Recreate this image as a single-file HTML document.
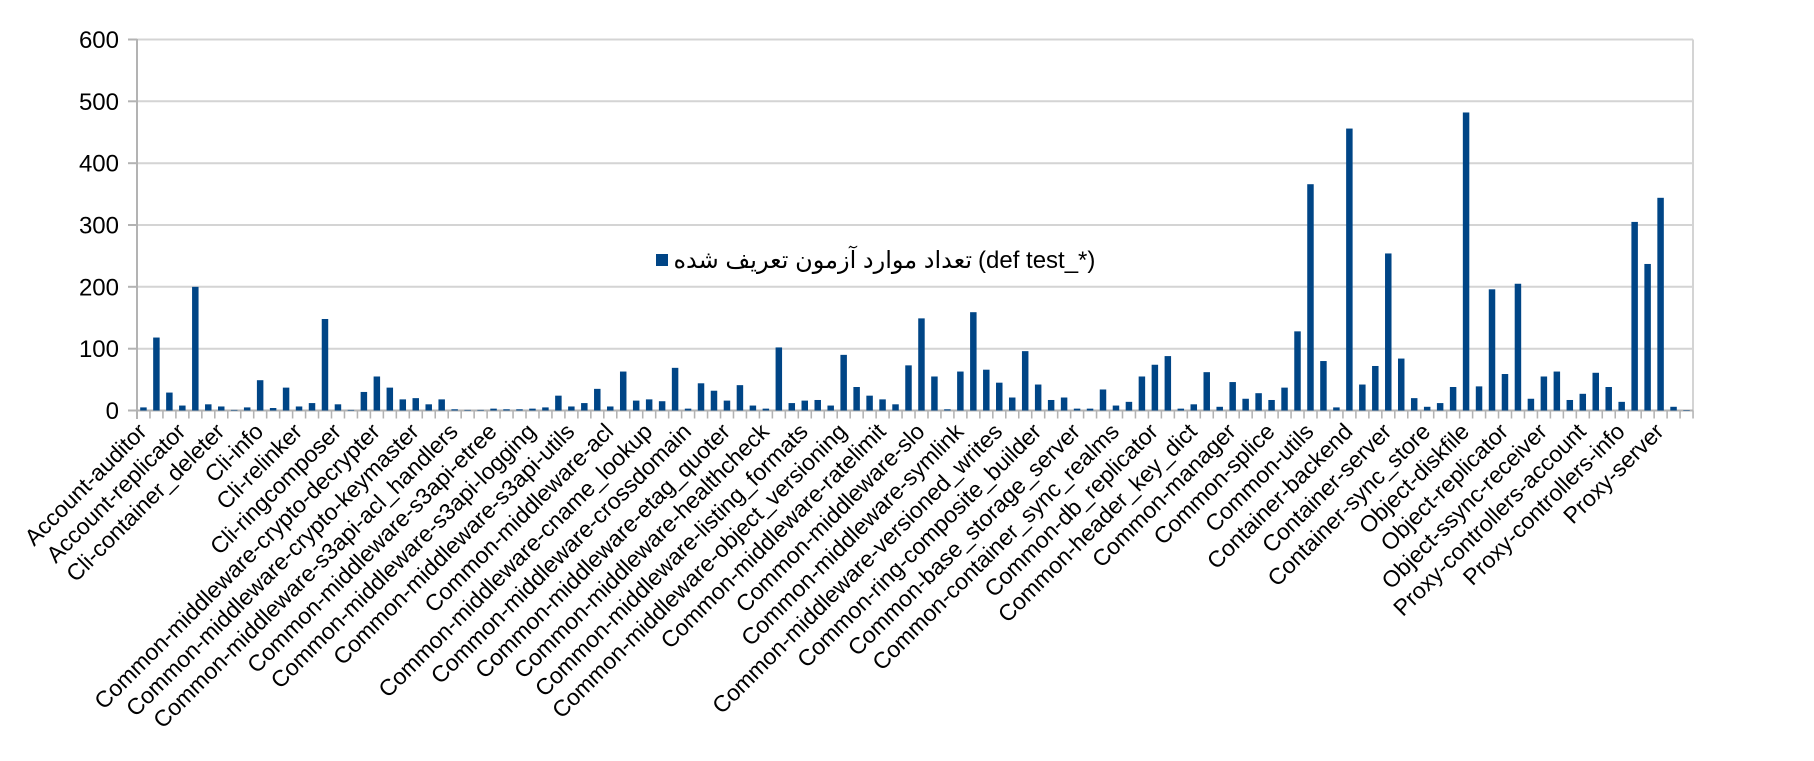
<!DOCTYPE html>
<html><head><meta charset="utf-8"><style>
html,body{margin:0;padding:0;background:#fff;}
svg{display:block;}
text{font-family:"Liberation Sans","DejaVu Sans",sans-serif;fill:#000;}
</style></head><body>
<svg width="1814" height="761" viewBox="0 0 1814 761" xmlns="http://www.w3.org/2000/svg">
<g stroke="#d4d4d4" stroke-width="2">
<line x1="137" y1="39.5" x2="1693" y2="39.5"/>
<line x1="137" y1="101.3" x2="1693" y2="101.3"/>
<line x1="137" y1="163.2" x2="1693" y2="163.2"/>
<line x1="137" y1="225" x2="1693" y2="225"/>
<line x1="137" y1="286.8" x2="1693" y2="286.8"/>
<line x1="137" y1="348.7" x2="1693" y2="348.7"/>
<line x1="1693" y1="39.5" x2="1693" y2="410.5"/>
</g>
<g stroke="#b3b3b3" stroke-width="2">
<line x1="137" y1="39" x2="137" y2="419"/>
<line x1="128" y1="410.5" x2="1693" y2="410.5"/>
<line x1="128" y1="39.5" x2="137" y2="39.5"/>
<line x1="128" y1="101.3" x2="137" y2="101.3"/>
<line x1="128" y1="163.2" x2="137" y2="163.2"/>
<line x1="128" y1="225" x2="137" y2="225"/>
<line x1="128" y1="286.8" x2="137" y2="286.8"/>
<line x1="128" y1="348.7" x2="137" y2="348.7"/>
</g>
<g transform="translate(137,410.5) scale(12.967,1)" stroke="#b3b3b3" stroke-width="0.12">
<path d="M1 0v8M2 0v8M3 0v8M4 0v8M5 0v8M6 0v8M7 0v8M8 0v8M9 0v8M10 0v8M11 0v8M12 0v8M13 0v8M14 0v8M15 0v8M16 0v8M17 0v8M18 0v8M19 0v8M20 0v8M21 0v8M22 0v8M23 0v8M24 0v8M25 0v8M26 0v8M27 0v8M28 0v8M29 0v8M30 0v8M31 0v8M32 0v8M33 0v8M34 0v8M35 0v8M36 0v8M37 0v8M38 0v8M39 0v8M40 0v8M41 0v8M42 0v8M43 0v8M44 0v8M45 0v8M46 0v8M47 0v8M48 0v8M49 0v8M50 0v8M51 0v8M52 0v8M53 0v8M54 0v8M55 0v8M56 0v8M57 0v8M58 0v8M59 0v8M60 0v8M61 0v8M62 0v8M63 0v8M64 0v8M65 0v8M66 0v8M67 0v8M68 0v8M69 0v8M70 0v8M71 0v8M72 0v8M73 0v8M74 0v8M75 0v8M76 0v8M77 0v8M78 0v8M79 0v8M80 0v8M81 0v8M82 0v8M83 0v8M84 0v8M85 0v8M86 0v8M87 0v8M88 0v8M89 0v8M90 0v8M91 0v8M92 0v8M93 0v8M94 0v8M95 0v8M96 0v8M97 0v8M98 0v8M99 0v8M100 0v8M101 0v8M102 0v8M103 0v8M104 0v8M105 0v8M106 0v8M107 0v8M108 0v8M109 0v8M110 0v8M111 0v8M112 0v8M113 0v8M114 0v8M115 0v8M116 0v8M117 0v8M118 0v8M119 0v8M120 0v8"/>
</g>
<g transform="translate(140.2,410.5) scale(12.967,-0.6183)" fill="#004586">
<rect x="0" width="0.5" height="5"/><rect x="1" width="0.5" height="118"/><rect x="2" width="0.5" height="29"/><rect x="3" width="0.5" height="8"/><rect x="4" width="0.5" height="200"/><rect x="5" width="0.5" height="10"/><rect x="6" width="0.5" height="6.5"/><rect x="7" width="0.5" height="1"/><rect x="8" width="0.5" height="5"/><rect x="9" width="0.5" height="49"/>
<rect x="10" width="0.5" height="4"/><rect x="11" width="0.5" height="37"/><rect x="12" width="0.5" height="6.5"/><rect x="13" width="0.5" height="12"/><rect x="14" width="0.5" height="148"/><rect x="15" width="0.5" height="10"/><rect x="16" width="0.5" height="1"/><rect x="17" width="0.5" height="30"/><rect x="18" width="0.5" height="55"/><rect x="19" width="0.5" height="37"/>
<rect x="20" width="0.5" height="18"/><rect x="21" width="0.5" height="20"/><rect x="22" width="0.5" height="10"/><rect x="23" width="0.5" height="18"/><rect x="24" width="0.5" height="2"/><rect x="25" width="0.5" height="1"/><rect x="26" width="0.5" height="1"/><rect x="27" width="0.5" height="3"/><rect x="28" width="0.5" height="2"/><rect x="29" width="0.5" height="2"/>
<rect x="30" width="0.5" height="3"/><rect x="31" width="0.5" height="5"/><rect x="32" width="0.5" height="24"/><rect x="33" width="0.5" height="6.5"/><rect x="34" width="0.5" height="12"/><rect x="35" width="0.5" height="35"/><rect x="36" width="0.5" height="6.5"/><rect x="37" width="0.5" height="63"/><rect x="38" width="0.5" height="16"/><rect x="39" width="0.5" height="18"/>
<rect x="40" width="0.5" height="15"/><rect x="41" width="0.5" height="69"/><rect x="42" width="0.5" height="3"/><rect x="43" width="0.5" height="44"/><rect x="44" width="0.5" height="32"/><rect x="45" width="0.5" height="16"/><rect x="46" width="0.5" height="41"/><rect x="47" width="0.5" height="8"/><rect x="48" width="0.5" height="3"/><rect x="49" width="0.5" height="102"/>
<rect x="50" width="0.5" height="12"/><rect x="51" width="0.5" height="16"/><rect x="52" width="0.5" height="17"/><rect x="53" width="0.5" height="8"/><rect x="54" width="0.5" height="90"/><rect x="55" width="0.5" height="38"/><rect x="56" width="0.5" height="24"/><rect x="57" width="0.5" height="18"/><rect x="58" width="0.5" height="10"/><rect x="59" width="0.5" height="73"/>
<rect x="60" width="0.5" height="149"/><rect x="61" width="0.5" height="55"/><rect x="62" width="0.5" height="2"/><rect x="63" width="0.5" height="63"/><rect x="64" width="0.5" height="159"/><rect x="65" width="0.5" height="66"/><rect x="66" width="0.5" height="45"/><rect x="67" width="0.5" height="21"/><rect x="68" width="0.5" height="96"/><rect x="69" width="0.5" height="42"/>
<rect x="70" width="0.5" height="17"/><rect x="71" width="0.5" height="21"/><rect x="72" width="0.5" height="3"/><rect x="73" width="0.5" height="3"/><rect x="74" width="0.5" height="34"/><rect x="75" width="0.5" height="8"/><rect x="76" width="0.5" height="14"/><rect x="77" width="0.5" height="55"/><rect x="78" width="0.5" height="74"/><rect x="79" width="0.5" height="88"/>
<rect x="80" width="0.5" height="3"/><rect x="81" width="0.5" height="10"/><rect x="82" width="0.5" height="62"/><rect x="83" width="0.5" height="6"/><rect x="84" width="0.5" height="46"/><rect x="85" width="0.5" height="19"/><rect x="86" width="0.5" height="28"/><rect x="87" width="0.5" height="17"/><rect x="88" width="0.5" height="37"/><rect x="89" width="0.5" height="128"/>
<rect x="90" width="0.5" height="366"/><rect x="91" width="0.5" height="80"/><rect x="92" width="0.5" height="5"/><rect x="93" width="0.5" height="456"/><rect x="94" width="0.5" height="42"/><rect x="95" width="0.5" height="72"/><rect x="96" width="0.5" height="254"/><rect x="97" width="0.5" height="84"/><rect x="98" width="0.5" height="20"/><rect x="99" width="0.5" height="6"/>
<rect x="100" width="0.5" height="12"/><rect x="101" width="0.5" height="38"/><rect x="102" width="0.5" height="482"/><rect x="103" width="0.5" height="39"/><rect x="104" width="0.5" height="196"/><rect x="105" width="0.5" height="59"/><rect x="106" width="0.5" height="205"/><rect x="107" width="0.5" height="19"/><rect x="108" width="0.5" height="55"/><rect x="109" width="0.5" height="63"/>
<rect x="110" width="0.5" height="17"/><rect x="111" width="0.5" height="27"/><rect x="112" width="0.5" height="61"/><rect x="113" width="0.5" height="38"/><rect x="114" width="0.5" height="14"/><rect x="115" width="0.5" height="305"/><rect x="116" width="0.5" height="237"/><rect x="117" width="0.5" height="344"/><rect x="118" width="0.5" height="6"/><rect x="119" width="0.5" height="0.8"/>
</g>
<g font-size="24" text-anchor="end">
<text x="119" y="48">600</text>
<text x="119" y="109.8">500</text>
<text x="119" y="171.7">400</text>
<text x="119" y="233.5">300</text>
<text x="119" y="295.3">200</text>
<text x="119" y="357.2">100</text>
<text x="119" y="419">0</text>
</g>
<rect x="656" y="254" width="12" height="12" fill="#004586"/>
<text x="972" y="268" font-size="24" text-anchor="end">تعداد موارد آزمون تعریف شده</text>
<text x="978" y="268" font-size="24">(def test_*)</text>
<g font-size="23" text-anchor="end">
<text transform="translate(148,433) rotate(-45)">Account-auditor</text>
<text transform="translate(186.9,433) rotate(-45)">Account-replicator</text>
<text transform="translate(225.8,433) rotate(-45)">Cli-container_deleter</text>
<text transform="translate(264.7,433) rotate(-45)">Cli-info</text>
<text transform="translate(303.6,433) rotate(-45)">Cli-relinker</text>
<text transform="translate(342.5,433) rotate(-45)">Cli-ringcomposer</text>
<text transform="translate(381.4,433) rotate(-45)">Common-middleware-crypto-decrypter</text>
<text transform="translate(420.3,433) rotate(-45)">Common-middleware-crypto-keymaster</text>
<text transform="translate(459.2,433) rotate(-45)">Common-middleware-s3api-acl_handlers</text>
<text transform="translate(498.1,433) rotate(-45)">Common-middleware-s3api-etree</text>
<text transform="translate(537,433) rotate(-45)">Common-middleware-s3api-logging</text>
<text transform="translate(575.9,433) rotate(-45)">Common-middleware-s3api-utils</text>
<text transform="translate(614.8,433) rotate(-45)">Common-middleware-acl</text>
<text transform="translate(653.7,433) rotate(-45)">Common-middleware-cname_lookup</text>
<text transform="translate(692.6,433) rotate(-45)">Common-middleware-crossdomain</text>
<text transform="translate(731.5,433) rotate(-45)">Common-middleware-etag_quoter</text>
<text transform="translate(770.4,433) rotate(-45)">Common-middleware-healthcheck</text>
<text transform="translate(809.3,433) rotate(-45)">Common-middleware-listing_formats</text>
<text transform="translate(848.2,433) rotate(-45)">Common-middleware-object_versioning</text>
<text transform="translate(887.1,433) rotate(-45)">Common-middleware-ratelimit</text>
<text transform="translate(926,433) rotate(-45)">Common-middleware-slo</text>
<text transform="translate(964.9,433) rotate(-45)">Common-middleware-symlink</text>
<text transform="translate(1003.8,433) rotate(-45)">Common-middleware-versioned_writes</text>
<text transform="translate(1042.7,433) rotate(-45)">Common-ring-composite_builder</text>
<text transform="translate(1081.6,433) rotate(-45)">Common-base_storage_server</text>
<text transform="translate(1120.5,433) rotate(-45)">Common-container_sync_realms</text>
<text transform="translate(1159.4,433) rotate(-45)">Common-db_replicator</text>
<text transform="translate(1198.3,433) rotate(-45)">Common-header_key_dict</text>
<text transform="translate(1237.2,433) rotate(-45)">Common-manager</text>
<text transform="translate(1276.1,433) rotate(-45)">Common-splice</text>
<text transform="translate(1315,433) rotate(-45)">Common-utils</text>
<text transform="translate(1353.9,433) rotate(-45)">Container-backend</text>
<text transform="translate(1392.8,433) rotate(-45)">Container-server</text>
<text transform="translate(1431.7,433) rotate(-45)">Container-sync_store</text>
<text transform="translate(1470.6,433) rotate(-45)">Object-diskfile</text>
<text transform="translate(1509.5,433) rotate(-45)">Object-replicator</text>
<text transform="translate(1548.4,433) rotate(-45)">Object-ssync-receiver</text>
<text transform="translate(1587.3,433) rotate(-45)">Proxy-controllers-account</text>
<text transform="translate(1626.2,433) rotate(-45)">Proxy-controllers-info</text>
<text transform="translate(1665.1,433) rotate(-45)">Proxy-server</text>
</g>
</svg>
</body></html>
